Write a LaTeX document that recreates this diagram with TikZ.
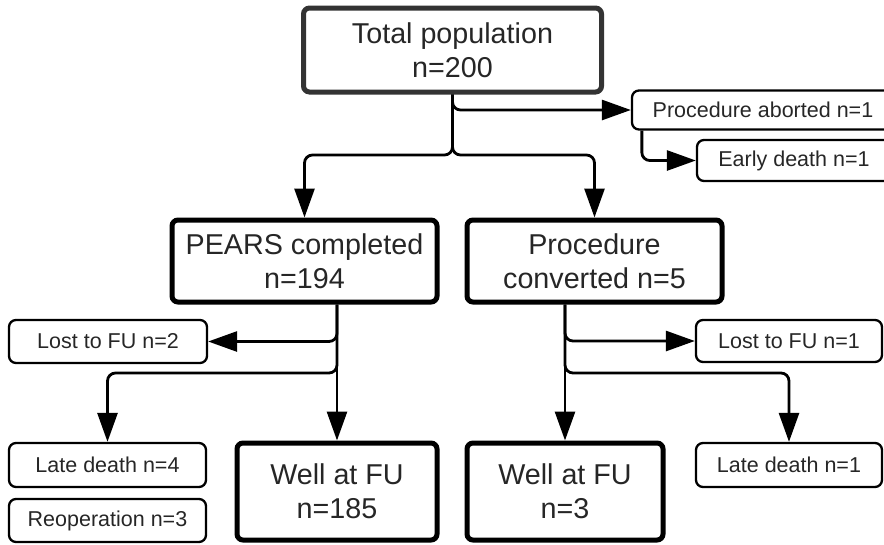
\documentclass[tikz,border=0pt]{standalone}
\usepackage{fontspec}
\setmainfont{Liberation Sans}
\usetikzlibrary{positioning,arrows.meta}

\begin{document}
\begin{tikzpicture}[x=1pt, y=-1pt, >={Triangle[length=29pt,width=20pt]},
conn/.style={->, line width=2.8pt, rounded corners=8pt},
bigbox/.style={draw, line width=5pt, rounded corners=6pt, align=center, inner sep=0pt,
  text=black!85, font=\fontsize{28.7}{34}\selectfont},
smallbox/.style={draw, line width=2.3pt, rounded corners=7pt, align=center, inner sep=0pt,
  text=black!85, font=\fontsize{21.5}{25}\selectfont}
]
\useasboundingbox (0,0) rectangle (884,544);

\node (total) [bigbox, draw=black!80, minimum width=298pt, minimum height=84pt] at (452.5,50) {Total population\\n=200};
\node (aborted) [smallbox, minimum width=262pt, minimum height=39pt] at (763,110) {Procedure aborted n=1};
\node (early) [smallbox, minimum width=194pt, minimum height=41pt] at (794,160.5) {Early death n=1};
\node (pears) [bigbox, minimum width=265pt, minimum height=82pt] at (304.5,261) {PEARS completed\\n=194};
\node (conv) [bigbox, minimum width=255pt, minimum height=82pt] at (594.5,261) {Procedure\\converted n=5};
\node (lost2) [smallbox, minimum width=198pt, minimum height=43pt] at (108,341.5) {Lost to FU n=2};
\node (late4) [smallbox, minimum width=197pt, minimum height=44pt] at (107.5,465) {Late death n=4};
\node (reop) [smallbox, minimum width=197pt, minimum height=43pt] at (107.5,520.5) {Reoperation n=3};
\node (well185) [bigbox, minimum width=200pt, minimum height=97pt] at (337,491.5) {Well at FU\\n=185};
\node (well3) [bigbox, minimum width=196pt, minimum height=97pt] at (565,491.5) {Well at FU\\n=3};
\node (lost1) [smallbox, minimum width=186pt, minimum height=42pt] at (789,341) {Lost to FU n=1};
\node (late1) [smallbox, minimum width=186pt, minimum height=44pt] at (789,465) {Late death n=1};

\coordinate (split) at (452.5,155);
\coordinate (lsplit) at (337,373);
\coordinate (rsplit) at (565,373);

\draw[conn] (total.south) |- (aborted.west);
\draw[conn] (total.south) -- (split) -| (pears.north);
\draw[conn] (total.south) -- (split) -| (conv.north);
\draw[conn] ([xshift=11pt]aborted.south west) |- (early.west);

\draw[conn] (pears.south -| well185.north) -- (well185.north);
\draw[conn] (pears.south -| well185.north) |- (lost2.east);
\draw[conn] (pears.south -| well185.north) -- (lsplit) -| (late4.north);

\draw[conn] (conv.south -| well3.north) -- (well3.north);
\draw[conn] (conv.south -| well3.north) |- (lost1.west);
\draw[conn] (conv.south -| well3.north) -- (rsplit) -| (late1.north);

\end{tikzpicture}
\end{document}
